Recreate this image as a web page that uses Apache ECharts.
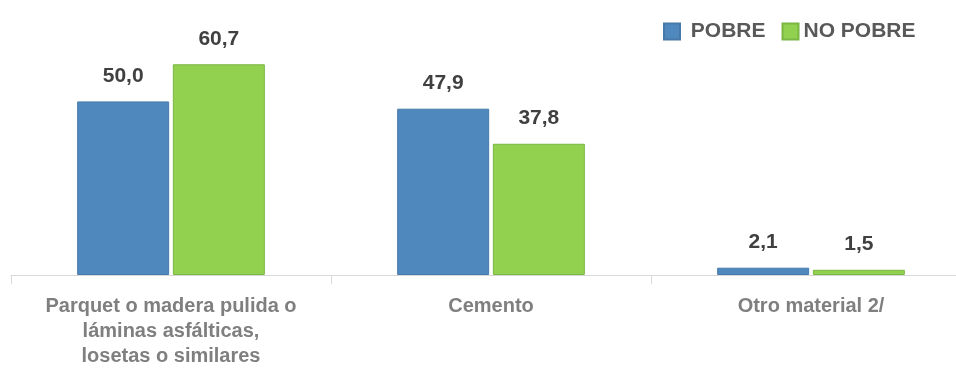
<!DOCTYPE html>
<html>
<head>
<meta charset="utf-8">
<script src="https://cdn.jsdelivr.net/npm/echarts@6/dist/echarts.min.js"></script>
<style>html,body{margin:0;padding:0;background:#fff;}#c{width:956px;height:371px;}</style>
</head>
<body>
<div id="c"></div>
<script>
const categories = ['Parquet o madera pulida o\nláminas asfálticas,\nlosetas o similares', 'Cemento', 'Otro material 2/'];
const seriesNames = ['POBRE', 'NO POBRE'];
const pobre = [50.0, 47.9, 2.1];
const noPobre = [60.7, 37.8, 1.5];

const FONT = '"Liberation Sans Narrow", "Arial Narrow", "Liberation Sans", Arial, sans-serif';
const chart = echarts.init(document.getElementById('c'), null, {renderer: 'canvas'});
const fmt = p => p.value.toFixed(1).replace('.', ',');
const labelCfg = {show: true, position: 'top', distance: 15, formatter: fmt,
  fontFamily: FONT, fontWeight: 'bold', fontSize: 21, color: '#404040'};
chart.setOption({
  animation: false,
  backgroundColor: '#fff',
  legend: {
    data: seriesNames, left: 658, top: 16, itemWidth: 16, itemHeight: 16, itemGap: 16,
    icon: 'rect',
    formatter: n => n === 'POBRE' ? ' POBRE' : n,
    textStyle: {fontFamily: FONT, fontWeight: 'bold', fontSize: 21, color: '#595959'}
  },
  grid: {left: 11, top: 32, width: 960, height: 243, containLabel: false, outerBoundsMode: 'none'},
  xAxis: {
    type: 'category', data: categories,
    axisLine: {lineStyle: {color: '#d9d9d9', width: 1}},
    axisTick: {show: true, length: 9, lineStyle: {color: '#d9d9d9'}},
    axisLabel: {fontFamily: FONT, fontWeight: 'bold', fontSize: 20, color: '#7f7f7f',
      margin: 19, lineHeight: 25, interval: 0}
  },
  yAxis: {type: 'value', min: 0, max: 70, show: false, splitLine: {show: false}},
  series: [
    {name: seriesNames[0], type: 'bar', data: pobre, barWidth: 92, barGap: '4%',
     itemStyle: {color: '#4f88bd', borderColor: '#4679aa', borderWidth: 1},
     label: labelCfg},
    {name: seriesNames[1], type: 'bar', data: noPobre, barWidth: 92,
     itemStyle: {color: '#92d050', borderColor: '#79b642', borderWidth: 1},
     label: labelCfg}
  ]
});
</script>
</body>
</html>
